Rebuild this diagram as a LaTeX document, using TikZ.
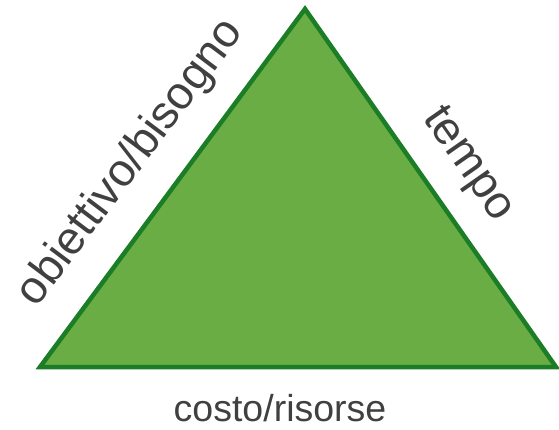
\documentclass[tikz,border=0pt]{standalone}
\usepackage{fontspec}
\setmainfont{Liberation Sans}
\definecolor{trifill}{RGB}{106,173,69}
\definecolor{triline}{RGB}{27,125,37}
\definecolor{labelgray}{RGB}{64,64,64}

\begin{document}
\begin{tikzpicture}[x=1pt,y=1pt,yscale=-1,xscale=1,
  sidelabel/.style={text=labelgray,font=\fontsize{46}{54}\selectfont,inner sep=0pt},
  baselabel/.style={text=labelgray,font=\fontsize{37.5}{45}\selectfont,inner sep=0pt}]
\useasboundingbox (0,0) rectangle (559,430);

%Triangle corners
\coordinate (apex) at (305,9);
\coordinate (bl) at (40,367);
\coordinate (br) at (556,367);

%Shape: Triangle
\draw [color=triline,fill=trifill,line width=4.5,line join=miter] (apex) -- (br) -- (bl) -- cycle ;

%Text labels
\node [sidelabel,rotate=53] (goal) at (131,163) {obiettivo/bisogno};
\node [sidelabel,rotate=-55] (time) at (467,165) {tempo};
\node [baselabel] (cost) at (280,408) {costo/risorse};

\end{tikzpicture}
\end{document}
